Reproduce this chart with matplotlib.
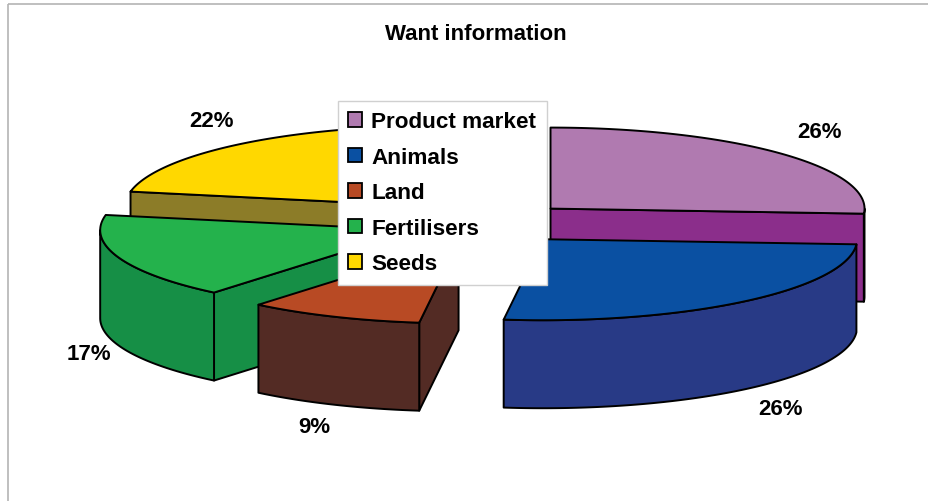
import numpy as np
import matplotlib
matplotlib.use("Agg")
import matplotlib.pyplot as plt
from matplotlib.patches import Polygon, Patch, Rectangle

# ---- data ----
title = "Want information"
categories = ["Product market", "Animals", "Land", "Fertilisers", "Seeds"]
values = [26, 26, 9, 17, 22]
top_colors = ["#B07AB0", "#0A50A2", "#B84A24", "#24B24C", "#FFD800"]
side_colors = ["#8B2E8B", "#283A86", "#532B24", "#168F46", "#8C7C28"]

# ---- layout (pixel space) ----
W, H = 929, 502
cx, cy = 491, 224
rx, ry = 314, 81
depth = 88
explode = 0.26

plt.rcParams['font.family'] = ['Liberation Sans', 'DejaVu Sans']
fig = plt.figure(figsize=(W / 100, H / 100), dpi=100)
ax = fig.add_axes([0, 0, 1, 1])
ax.set_xlim(0, W)
ax.set_ylim(H, 0)
ax.axis('off')

# chart border (top/left visible)
ax.add_patch(Rectangle((8, 5), W + 20, H + 20, fill=False, edgecolor='#b4b4b4', lw=1.2, zorder=0))

total = float(sum(values))
fracs = np.array(values) / total
starts = np.concatenate([[0], np.cumsum(fracs)[:-1]]) * 360
ends = np.cumsum(fracs) * 360


def pt(ax0, ay0, t, dz=0.0):
    r = np.radians(t)
    return (ax0 + rx * np.sin(r), ay0 - ry * np.cos(r) + dz)


def slice_geom(i):
    a0, a1 = starts[i], ends[i]
    mid = 0.5 * (a0 + a1)
    m = np.radians(mid)
    ox = cx + explode * rx * np.sin(m)
    oy = cy - explode * ry * np.cos(m)
    return a0, a1, mid, ox, oy


edge_kw = dict(edgecolor='black', lw=1.4, joinstyle='round')


def draw_slice(i, z):
    a0, a1, mid, ox, oy = slice_geom(i)
    sc = side_colors[i]
    tc = top_colors[i]
    # radial faces
    for t, sgn in ((a0, -1), (a1, 1)):
        nrm = np.radians(t + sgn * 90)
        facing = -np.cos(nrm)  # + means toward viewer
        if facing > 1e-3:
            p = pt(ox, oy, t)
            quad = [(ox, oy), p, (p[0], p[1] + depth), (ox, oy + depth)]
            ax.add_patch(Polygon(quad, closed=True, facecolor=sc, zorder=z, **edge_kw))
    # outer surface (front part 90..270)
    lo, hi = max(a0, 90), min(a1, 270)
    if hi > lo:
        ts = np.linspace(lo, hi, 120)
        topp = [pt(ox, oy, t) for t in ts]
        botp = [pt(ox, oy, t, depth) for t in ts[::-1]]
        ax.add_patch(Polygon(topp + botp, closed=True, facecolor=sc, zorder=z + 0.1, **edge_kw))
    # top face
    ts = np.linspace(a0, a1, 200)
    poly = [(ox, oy)] + [pt(ox, oy, t) for t in ts]
    ax.add_patch(Polygon(poly, closed=True, facecolor=tc, zorder=z + 0.2, **edge_kw))


# painter's order: back slices first
order = sorted(range(len(values)), key=lambda i: slice_geom(i)[4] - ry * np.cos(np.radians(slice_geom(i)[2])))
for k, i in enumerate(order):
    draw_slice(i, 1 + k)

# percentage labels
for i, v in enumerate(values):
    a0, a1, mid, ox, oy = slice_geom(i)
    m = np.radians(mid)
    s, c = np.sin(m), np.cos(m)
    ex, ey = pt(ox, oy, mid, depth if c < 0 else 0)
    lx = ex + (24 * s if s > 0 else 8 * s)
    ly = ey - (31 * c if c > 0 else 24 * c)
    ax.text(lx, ly, f"{v}%", ha='left' if s > 0 else 'right', va='center',
            fontsize=16, fontweight='bold', zorder=20)

ax.text(476, 34, title, ha='center', va='center', fontsize=16, fontweight='bold', zorder=20)

handles = [Patch(facecolor=top_colors[i], edgecolor='black', lw=1.3) for i in range(len(categories))]
leg = ax.legend(handles, categories, loc='upper left',
                bbox_to_anchor=(338 / W, 1 - 102 / H), bbox_transform=fig.transFigure,
                prop={'weight': 'bold', 'size': 16.2}, frameon=True, fancybox=False,
                framealpha=1.0, borderaxespad=0, borderpad=0.46, labelspacing=0.645,
                handlelength=0.62, handleheight=0.62, handletextpad=0.4)
leg.get_frame().set_edgecolor('#d0d0d0')
leg.get_frame().set_linewidth(1.0)
leg.set_zorder(30)

fig.savefig("out.png", dpi=100)
